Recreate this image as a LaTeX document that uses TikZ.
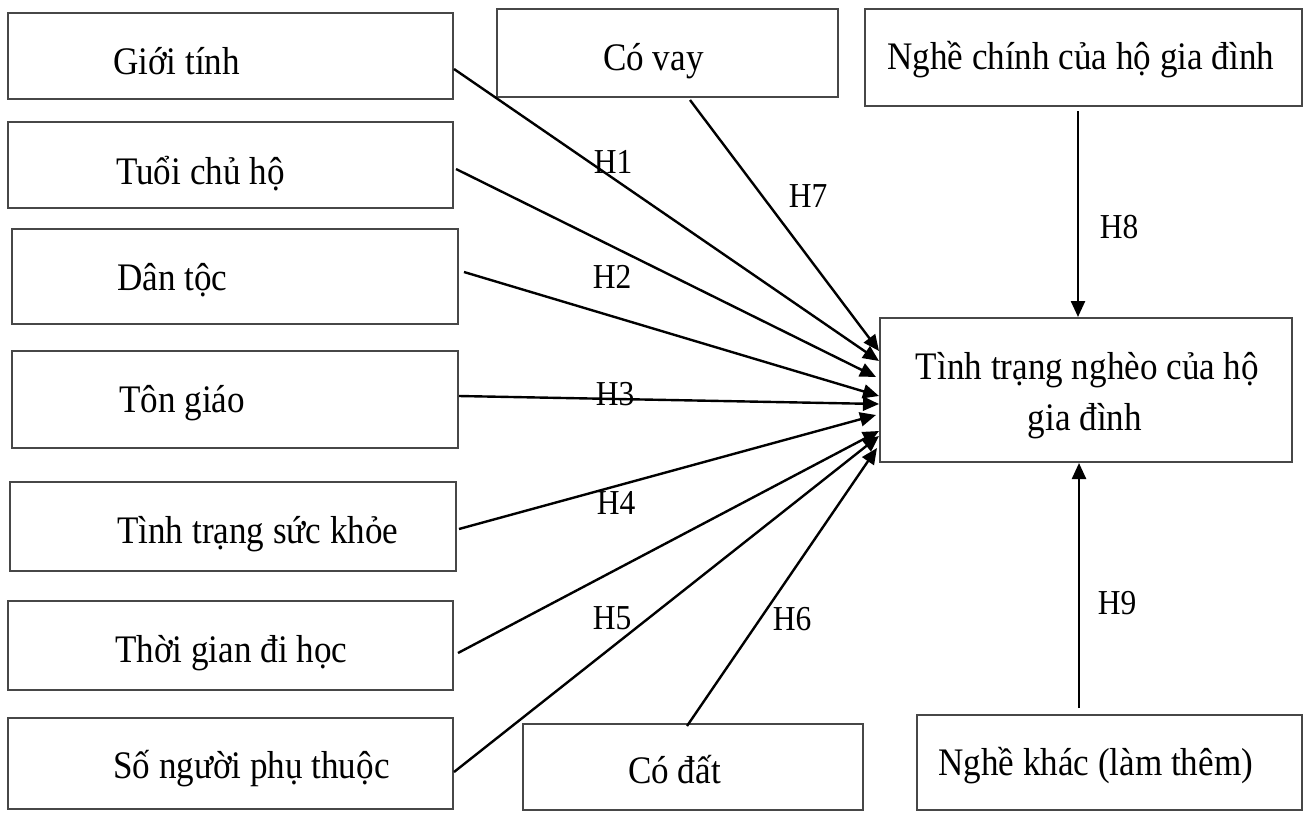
\documentclass[tikz,border=0pt]{standalone}
\usepackage{fontspec}
\setmainfont{Liberation Serif}[FakeStretch=0.9]
\usetikzlibrary{arrows.meta,calc}
\begin{document}
\begin{tikzpicture}[x=1pt,y=-1pt,
  box/.style={draw=black!72,line width=2pt,inner sep=0pt,fill=none},
  txt/.style={anchor=base west,inner sep=0pt,font=\fontsize{39}{46}\selectfont},
  ctxt/.style={anchor=base,inner sep=0pt,font=\fontsize{39}{46}\selectfont},
  hlab/.style={inner sep=0pt,font=\fontsize{35}{42}\selectfont},
  conn/.style={line width=2.4pt,-{Triangle[length=16pt,width=14pt]}}]
\path[fill=white] (0,0) rectangle (1304,812);
\useasboundingbox (0,0) rectangle (1304,812);
% left column
\node[box,minimum width=445pt,minimum height=86pt] (gt) at (230.5,56) {};
\node[box,minimum width=445pt,minimum height=86pt] (tc) at (230.5,165) {};
\node[box,minimum width=446pt,minimum height=95pt] (dt) at (235,276.5) {};
\node[box,minimum width=446pt,minimum height=97pt] (tg) at (235,399.5) {};
\node[box,minimum width=446pt,minimum height=89pt] (sk) at (233,526.5) {};
\node[box,minimum width=445pt,minimum height=89pt] (tgh) at (230.5,645.5) {};
\node[box,minimum width=445pt,minimum height=91pt] (sn) at (230.5,763.5) {};
% others
\node[box,minimum width=341pt,minimum height=88pt] (cv) at (667.5,53) {};
\node[box,minimum width=437pt,minimum height=97pt] (nc) at (1083.5,57.5) {};
\node[box,minimum width=412pt,minimum height=144pt] (c) at (1086,390) {};
\node[box,minimum width=340pt,minimum height=86pt] (cd) at (693,767) {};
\node[box,minimum width=385pt,minimum height=95pt] (nk) at (1109.5,762.5) {};
% texts
\node[txt] (gtt) at (113,74) {Giới tính};
\node[txt] (tct) at (116,184) {Tuổi chủ hộ};
\node[txt] (dtt) at (117,290) {Dân tộc};
\node[txt] (tgt) at (119,412) {Tôn giáo};
\node[txt] (skt) at (117,543) {Tình trạng sức khỏe};
\node[txt] (tght) at (115,662) {Thời gian đi học};
\node[txt] (snt) at (113,778) {Số người phụ thuộc};
\node[txt] (cvt) at (603,70) {Có vay};
\node[txt] (nct) at (887,69) {Nghề chính của hộ gia đình};
\node[ctxt] (ct1) at (1087.5,379) {Tình trạng nghèo của hộ};
\node[ctxt] (ct2) at (1085,430) {gia đình};
\node[txt] (cdt) at (628,783) {Có đất};
\node[txt] (nkt) at (938,775) {Nghề khác (làm thêm)};
% connectors
\draw[conn] ($(gt.east)+(0,13)$) -- ($(c.north west)+(0,44)$);
\draw[conn] ($(tc.east)+(2,4)$) -- ($(c.north west)+(-3,60)$);
\draw[conn] ($(dt.east)+(5,-4.5)$) -- ($(c.north west)+(0,79)$);
\draw[conn] ($(tg.east)+(0,-3.5)$) -- ($(c.north west)+(0,87)$);
\draw[conn] ($(sk.east)+(2,2.5)$) -- ($(c.north west)+(-3,98)$);
\draw[conn] ($(tgh.east)+(4,7.5)$) -- ($(c.north west)+(0,114)$);
\draw[conn] ($(sn.east)+(0,8.5)$) -- ($(c.north west)+(0,119)$);
\draw[conn] ($(cd.north)+(-6,3)$) -- ($(c.north west)+(-2,131)$);
\draw[conn] ($(cv.south)+(22.5,2)$) -- ($(c.north west)+(0,34)$);
\draw[conn] ($(nc.south)+(-5.5,4)$) -- ($(c.north)+(-8,0)$);
\draw[conn] ($(nk.north)+(-30.5,-6)$) -- ($(c.south)+(-7,0)$);
% labels
\node[hlab] (h1) at (613,162) {H1};
\node[hlab] (h2) at (612,277) {H2};
\node[hlab] (h3) at (615,394) {H3};
\node[hlab] (h4) at (616,503) {H4};
\node[hlab] (h5) at (612,618) {H5};
\node[hlab] (h6) at (792,619) {H6};
\node[hlab] (h7) at (808,196) {H7};
\node[hlab] (h8) at (1119,227) {H8};
\node[hlab] (h9) at (1117,603) {H9};
\end{tikzpicture}
\end{document}
